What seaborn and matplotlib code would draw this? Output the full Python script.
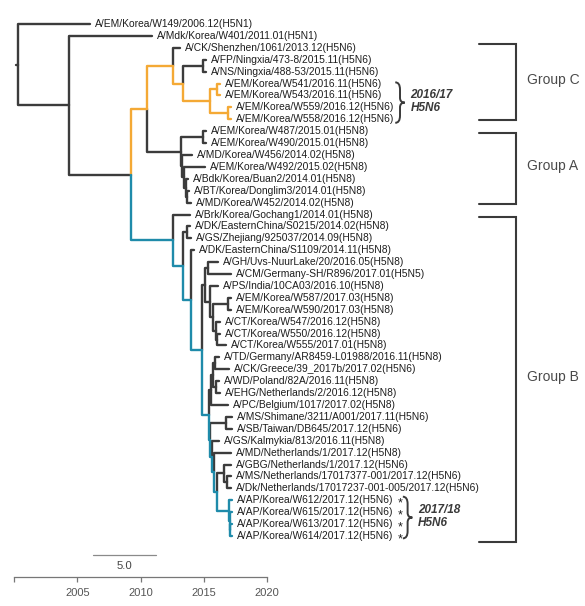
import numpy as np
import pandas as pd
import seaborn as sns
import matplotlib.pyplot as plt
from matplotlib.path import Path
from matplotlib.patches import PathPatch

# ---- tips (top to bottom) and their position on the time axis ----
tip_labels = [
    'A/EM/Korea/W149/2006.12(H5N1)', 'A/Mdk/Korea/W401/2011.01(H5N1)',
    'A/CK/Shenzhen/1061/2013.12(H5N6)', 'A/FP/Ningxia/473-8/2015.11(H5N6)',
    'A/NS/Ningxia/488-53/2015.11(H5N6)', 'A/EM/Korea/W541/2016.11(H5N6)',
    'A/EM/Korea/W543/2016.11(H5N6)', 'A/EM/Korea/W559/2016.12(H5N6)',
    'A/EM/Korea/W558/2016.12(H5N6)', 'A/EM/Korea/W487/2015.01(H5N8)',
    'A/EM/Korea/W490/2015.01(H5N8)', 'A/MD/Korea/W456/2014.02(H5N8)',
    'A/EM/Korea/W492/2015.02(H5N8)', 'A/Bdk/Korea/Buan2/2014.01(H5N8)',
    'A/BT/Korea/Donglim3/2014.01(H5N8)', 'A/MD/Korea/W452/2014.02(H5N8)',
    'A/Brk/Korea/Gochang1/2014.01(H5N8)', 'A/DK/EasternChina/S0215/2014.02(H5N8)',
    'A/GS/Zhejiang/925037/2014.09(H5N8)', 'A/DK/EasternChina/S1109/2014.11(H5N8)',
    'A/GH/Uvs-NuurLake/20/2016.05(H5N8)', 'A/CM/Germany-SH/R896/2017.01(H5N5)',
    'A/PS/India/10CA03/2016.10(H5N8)', 'A/EM/Korea/W587/2017.03(H5N8)',
    'A/EM/Korea/W590/2017.03(H5N8)', 'A/CT/Korea/W547/2016.12(H5N8)',
    'A/CT/Korea/W550/2016.12(H5N8)', 'A/CT/Korea/W555/2017.01(H5N8)',
    'A/TD/Germany/AR8459-L01988/2016.11(H5N8)', 'A/CK/Greece/39_2017b/2017.02(H5N6)',
    'A/WD/Poland/82A/2016.11(H5N8)', 'A/EHG/Netherlands/2/2016.12(H5N8)',
    'A/PC/Belgium/1017/2017.02(H5N8)', 'A/MS/Shimane/3211/A001/2017.11(H5N6)',
    'A/SB/Taiwan/DB645/2017.12(H5N6)', 'A/GS/Kalmykia/813/2016.11(H5N8)',
    'A/MD/Netherlands/1/2017.12(H5N8)', 'A/GBG/Netherlands/1/2017.12(H5N6)',
    'A/MS/Netherlands/17017377-001/2017.12(H5N6)',
    'A/Dk/Netherlands/17017237-001-005/2017.12(H5N6)',
    'A/AP/Korea/W612/2017.12(H5N6)', 'A/AP/Korea/W615/2017.12(H5N6)',
    'A/AP/Korea/W613/2017.12(H5N6)', 'A/AP/Korea/W614/2017.12(H5N6)',
]
tip_year = [
    2006.0, 2010.89, 2013.1, 2015.16, 2015.16, 2016.26, 2016.26, 2017.13, 2017.13,
    2015.16, 2015.16, 2014.05, 2015.08, 2013.74, 2013.82, 2013.97,
    2013.9, 2013.9, 2014.0, 2014.21,
    2016.11, 2017.13, 2016.11, 2017.13, 2017.13, 2016.26, 2016.26, 2016.74,
    2016.18, 2016.97, 2016.18, 2016.26, 2016.89, 2017.21, 2017.21,
    2016.18, 2017.13, 2017.13, 2017.13, 2017.13,
    2017.21, 2017.21, 2017.21, 2017.21,
]
starred_tips = [40, 41, 42, 43]

# ---- internal nodes: name, time position, children (tip index or node name) ----
node_names = ['root', 'A', 'B', 'C', 'E', 'E2', 'FPNS', 'K16', 'K16a', 'K16b',
              'F', 'GA1', 'L1', 'L2', 'L3', 'L4',
              'D', 'G', 'SZ', 'H', 'I', 'J', 'GC', 'PK', 'M', 'KW', 'N', 'O',
              'K', 'P', 'P1', 'P2', 'P3', 'Q', 'ST', 'Q1', 'Q2', 'Q3', 'NL', 'MD2',
              'K18', 'K18b', 'K18c']
node_year = [2000.32, 2004.34, 2009.24, 2010.5, 2012.55, 2013.34, 2014.92, 2015.47, 2016.03, 2016.89,
             2013.18, 2014.92, 2013.3, 2013.42, 2013.54, 2013.62,
             2012.55, 2013.34, 2013.66, 2013.97, 2014.84, 2015.08, 2015.32, 2015.47, 2015.71,
             2016.89, 2015.95, 2016.03,
             2015.39, 2015.55, 2015.71, 2015.87, 2015.95, 2015.47, 2016.74, 2015.63, 2015.79,
             2016.03, 2016.58, 2016.82,
             2017.01, 2017.05, 2017.09]
node_children = [
    [0, 'A'], [1, 'B'], ['C', 'D'], ['E', 'F'], [2, 'E2'], ['FPNS', 'K16'], [3, 4],
    ['K16a', 'K16b'], [5, 6], [7, 8],
    ['GA1', 'L1'], [9, 10], [11, 'L2'], [12, 'L3'], [13, 'L4'], [14, 15],
    [16, 'G'], ['SZ', 'H'], [17, 18], [19, 'I'], ['J', 'K'], ['GC', 'PK'], [20, 21],
    [22, 'M'], ['KW', 'N'], [23, 24], [25, 'O'], [26, 27],
    ['P', 'Q'], ['P1', 32], ['P2', 'P3'], [28, 29], [30, 31], ['ST', 'Q1'], [33, 34],
    [35, 'Q2'], [36, 'Q3'], ['NL', 'K18'], [37, 'MD2'], [38, 39],
    [40, 'K18b'], [41, 'K18c'], [42, 43],
]

# highlighted lineages
orange_clade = ['C', 'E', 'E2', 'K16', 'K16a', 'K16b', 5, 6, 7, 8]
blue_clade = ['D', 'G', 'H', 'I', 'K', 'Q', 'Q1', 'Q2', 'Q3', 'K18', 'K18b', 'K18c',
              40, 41, 42, 43]

group_names = ['Group C', 'Group A', 'Group B']
group_rows = [(1.7, 8.1), (9.15, 15.1), (16.2, 43.5)]
brace_labels = ['2016/17\nH5N6', '2017/18\nH5N6']
brace_rows = [(4.9, 8.3), (39.7, 43.2)]

years_ticks = [2000, 2005, 2010, 2015, 2020]
scale_len = 5.0

GRAY = '#3c3c3c'
ORANGE = '#F4A935'
BLUE = '#1F8BAA'

# ---- layout of the tree ----
xpos = {i: v for i, v in enumerate(tip_year)}
xpos.update(dict(zip(node_names, node_year)))
kids = dict(zip(node_names, node_children))
ypos = {i: float(i) for i in range(len(tip_labels))}


def place(n):
    if n in ypos:
        return ypos[n]
    ys = [place(c) for c in kids[n]]
    ypos[n] = (ys[0] + ys[-1]) / 2
    return ypos[n]


place('root')

rows = []
for parent in node_names:
    for ch in kids[parent]:
        clade = 'orange' if ch in orange_clade else ('blue' if ch in blue_clade else 'gray')
        eid = f'{parent}-{ch}'
        for x, y in [(xpos[parent], ypos[parent]), (xpos[parent], ypos[ch]), (xpos[ch], ypos[ch])]:
            rows.append(dict(edge=eid, x=x, y=y, clade=clade))
rows.append(dict(edge='stub', x=2000.12, y=ypos['root'], clade='gray'))
rows.append(dict(edge='stub', x=xpos['root'], y=ypos['root'], clade='gray'))
edges = pd.DataFrame(rows)

sns.set_theme(style='white')
plt.rcParams['font.family'] = ['Liberation Sans', 'DejaVu Sans']

fig = plt.figure(figsize=(5.85, 6.06), dpi=100)
ax = fig.add_axes([0, 0, 1, 1])
sns.lineplot(data=edges, x='x', y='y', units='edge', hue='clade',
             hue_order=['gray', 'orange', 'blue'],
             palette={'gray': GRAY, 'orange': ORANGE, 'blue': BLUE},
             estimator=None, sort=False, lw=1.7, legend=False, ax=ax)

ax.set_xlim(1998.895, 2045.08)
ax.set_ylim(48.88, -2.016)
ax.axis('off')

for i, lab in enumerate(tip_labels):
    t = ax.annotate(lab, (xpos[i], ypos[i]), xytext=(3.5, 0), textcoords='offset points',
                    va='center', ha='left', fontsize=7.4, color='#1e1e1e')
    if i in starred_tips:
        ax.annotate('*', xy=(1, 0.5), xycoords=t, xytext=(3.5, -2.4),
                    textcoords='offset points', va='center', ha='left',
                    fontsize=9, color='#1e1e1e')

# group brackets
bx0, bx1 = 2036.7, 2039.6
for name, (r0, r1) in zip(group_names, group_rows):
    ax.plot([bx0, bx1, bx1, bx0], [r0, r0, r1, r1], color='#3a3a3a', lw=1.5,
            solid_joinstyle='miter')
    ax.text(bx1 + 0.9, (r0 + r1) / 2 - 0.2, name, va='center', ha='left',
            fontsize=10, color='#4a4a4a')


def brace(x0, r0, r1, w):
    m = (r0 + r1) / 2
    h = w / 2
    verts = [(x0, r0), (x0 + h, r0), (x0 + h, r0 + 0.6),
             (x0 + h, m - 0.4),
             (x0 + h, m), (x0 + w, m),
             (x0 + h, m), (x0 + h, m + 0.4),
             (x0 + h, r1 - 0.6),
             (x0 + h, r1), (x0, r1)]
    codes = [Path.MOVETO, Path.CURVE3, Path.CURVE3, Path.LINETO, Path.CURVE3, Path.CURVE3,
             Path.CURVE3, Path.CURVE3, Path.LINETO, Path.CURVE3, Path.CURVE3]
    ax.add_patch(PathPatch(Path(verts, codes), fill=False, ec='#3a3a3a', lw=1.4))


for (r0, r1), lab, bxs in zip(brace_rows, brace_labels, [2030.1, 2030.7]):
    brace(bxs, r0, r1, 0.75)
    ax.text(bxs + 1.2, (r0 + r1) / 2 - 0.1, lab, va='center', ha='left', fontsize=8.5,
            style='italic', weight='bold', color='#3a3a3a', linespacing=1.15)

# scale bar
ax.plot([2006.24, 2006.24 + scale_len], [44.6, 44.6], color='#8a8a8a', lw=0.9)
ax.text(2006.24 + scale_len / 2, 45.55, f'{scale_len:.1f}', ha='center', va='center',
        fontsize=8.2, color='#444444')

# time axis
tax = fig.add_axes([14 / 585, (606 - 577) / 606, 253 / 585, 0.0001])
tax.set_xlim(2000, 2020)
tax.set_xticks(years_ticks)
tax.set_xticklabels([''] + [str(y) for y in years_ticks[1:]])
tax.set_yticks([])
for s in ['top', 'left', 'right']:
    tax.spines[s].set_visible(False)
tax.spines['bottom'].set_color('#777777')
tax.spines['bottom'].set_linewidth(0.9)
tax.tick_params(axis='x', direction='out', length=3.5, width=0.9, color='#777777',
                pad=4.5, labelsize=8, labelcolor='#555555', bottom=True)
tax.patch.set_alpha(0)

fig.savefig('out.png', dpi=100)
